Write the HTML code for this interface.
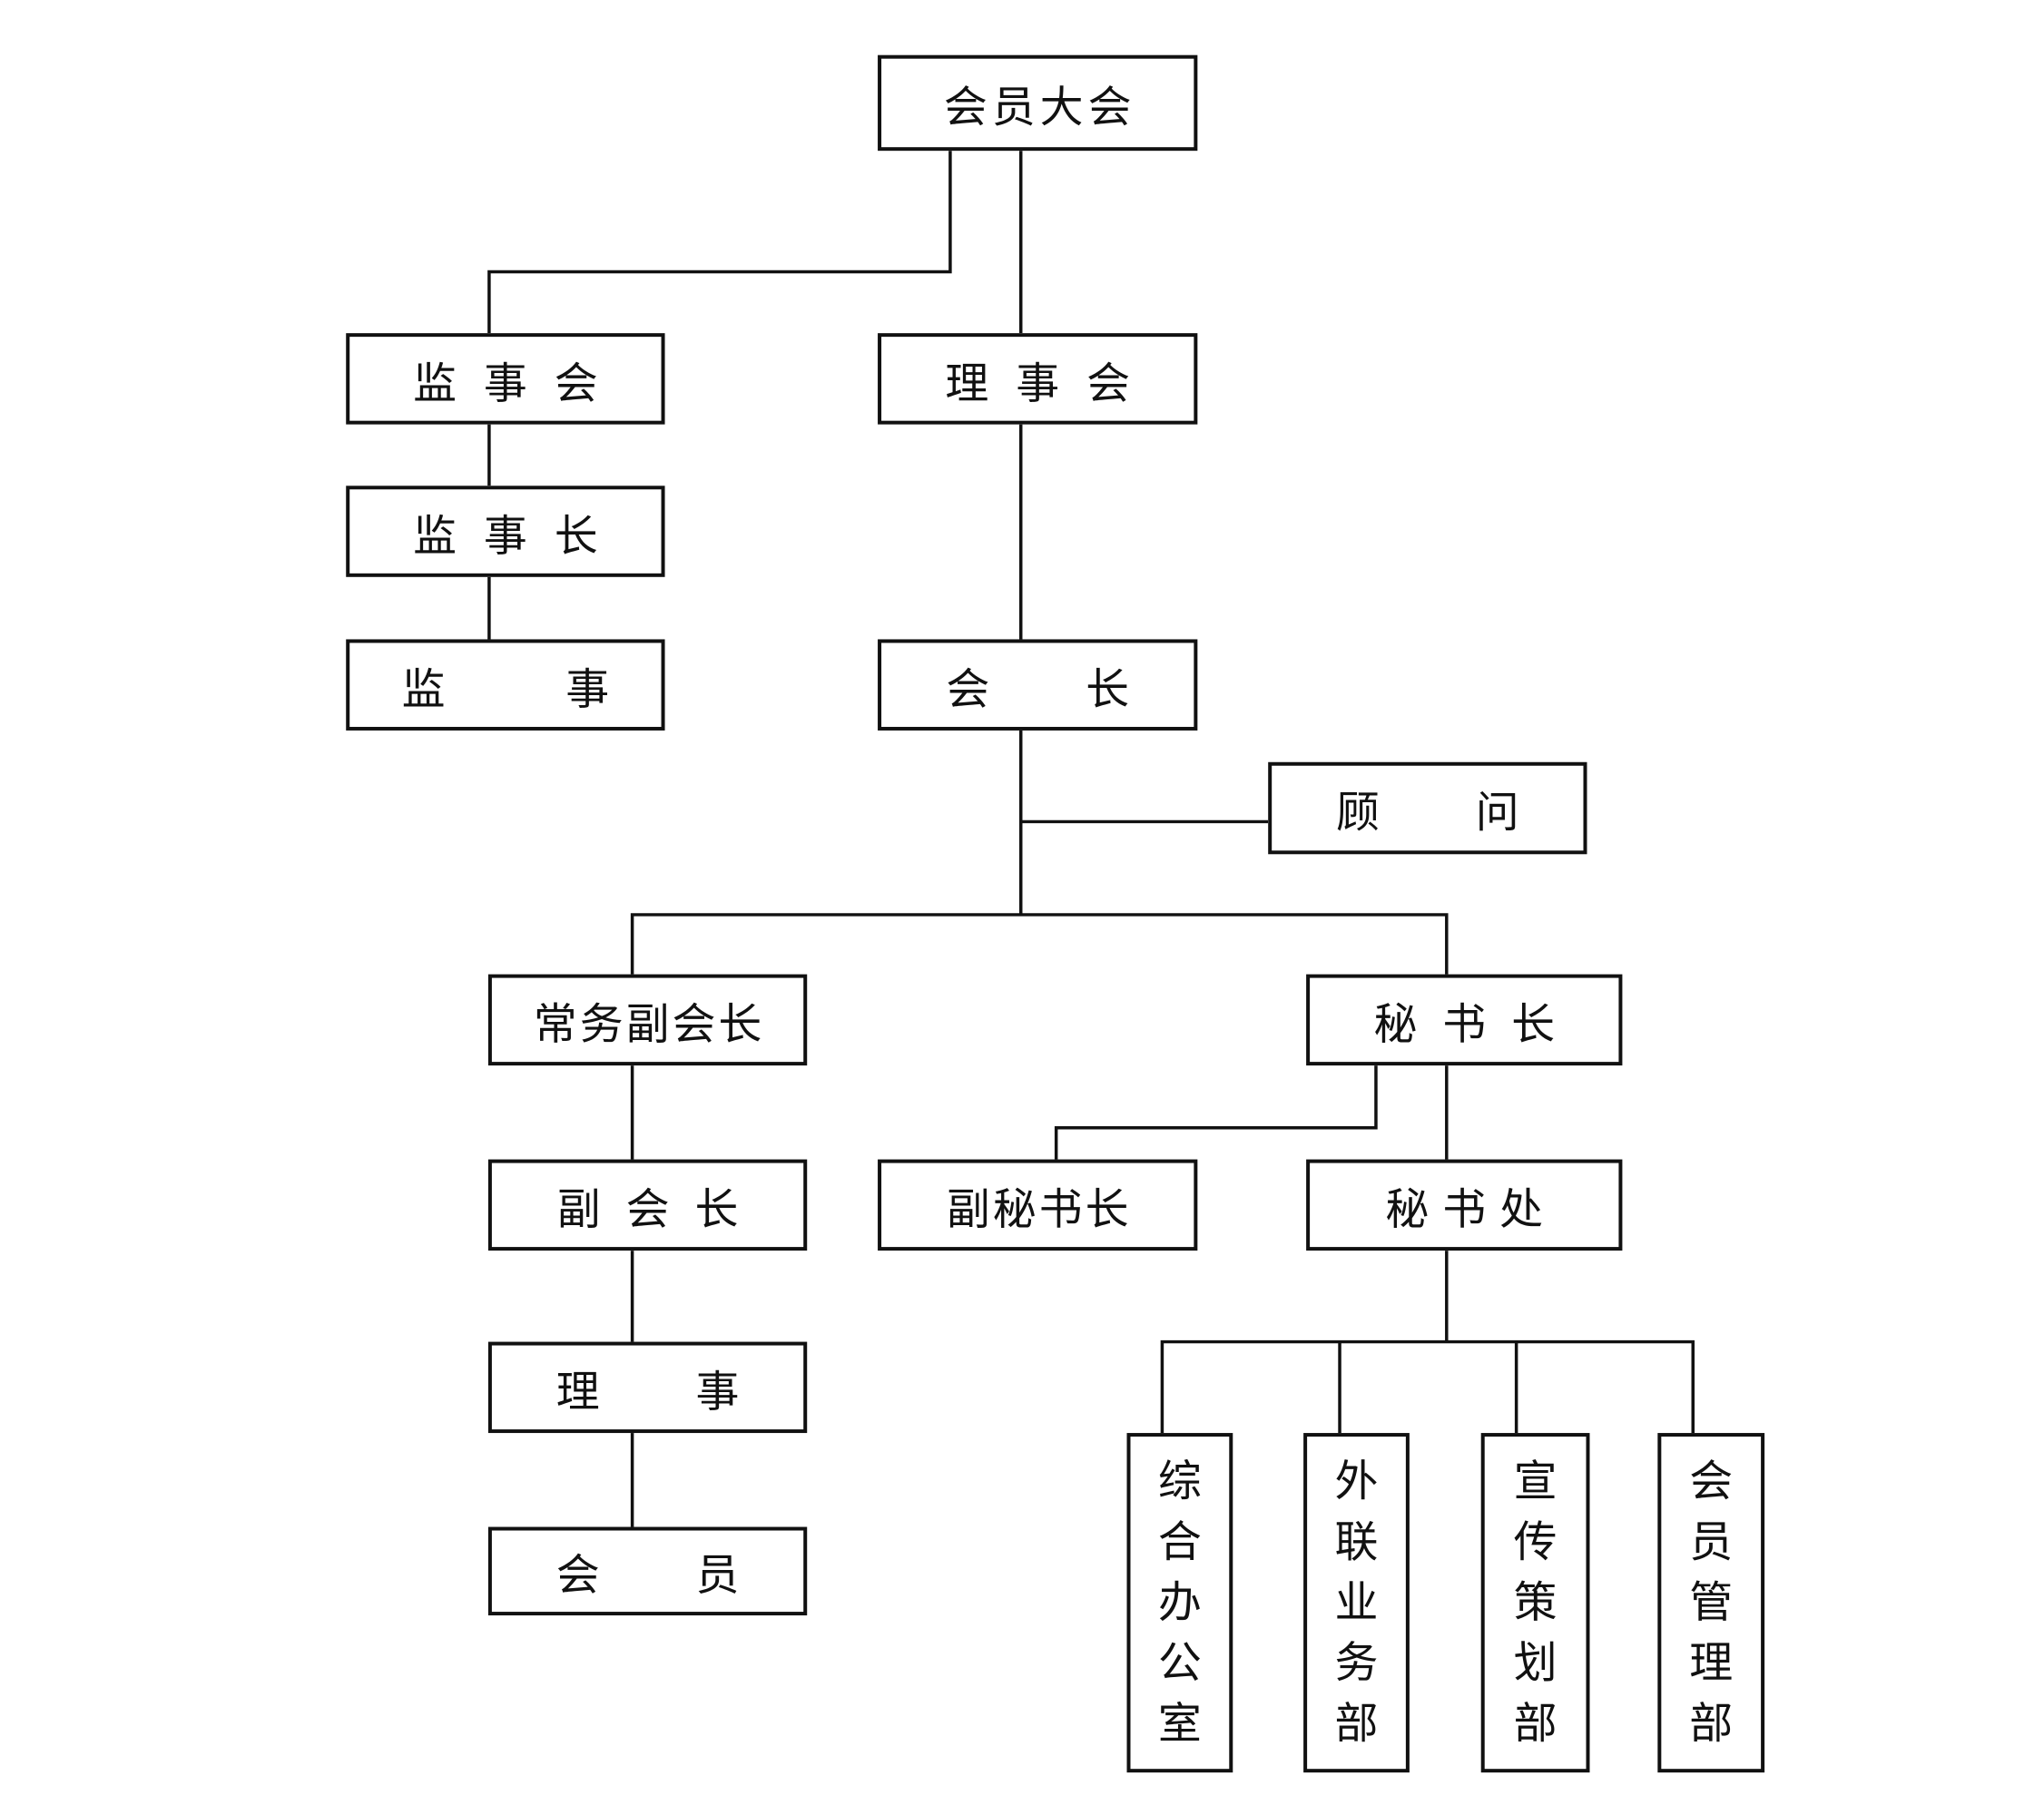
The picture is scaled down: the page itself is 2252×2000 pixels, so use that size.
<!DOCTYPE html>
<html><head><meta charset="utf-8"><style>
html,body{margin:0;padding:0;background:#fff;}
body{width:2252px;height:2000px;position:relative;overflow:hidden;font-family:"Liberation Sans","Noto Sans CJK SC",sans-serif;}
#w{position:absolute;left:0;top:0;width:2252px;height:2000px;transform-origin:0 0;transform:translate(-4px,-1px) scale(0.998,0.995);}
.b{position:absolute;box-sizing:border-box;border:4px solid #111;background:#fff;display:flex;align-items:center;justify-content:center;font-size:48px;color:#111;white-space:nowrap;}
.v{flex-direction:column;line-height:67px;}
svg{position:absolute;left:0;top:0;}
</style></head><body><div id="w">
<svg width="2252" height="2000" stroke="#111" stroke-width="3.5" fill="none">
<polyline points="1053,168 1053,302 544,302 544,370"/>
<line x1="1131" y1="168" x2="1131" y2="370"/>
<line x1="544" y1="471" x2="544" y2="539"/>
<line x1="544" y1="640" x2="544" y2="709"/>
<line x1="1131" y1="471" x2="1131" y2="709"/>
<line x1="1131" y1="810" x2="1131" y2="1014"/>
<line x1="1131" y1="911" x2="1404" y2="911"/>
<polyline points="702,1080 702,1014 1601,1014 1601,1080"/>
<line x1="702" y1="1181" x2="702" y2="1285"/>
<line x1="702" y1="1386" x2="702" y2="1487"/>
<line x1="702" y1="1588" x2="702" y2="1692"/>
<polyline points="1523,1181 1523,1250 1170,1250 1170,1285"/>
<line x1="1601" y1="1181" x2="1601" y2="1285"/>
<line x1="1601" y1="1386" x2="1601" y2="1487"/>
<polyline points="1287,1588 1287,1487 1873,1487 1873,1588"/>
<line x1="1483" y1="1487" x2="1483" y2="1588"/>
<line x1="1678" y1="1487" x2="1678" y2="1588"/>
</svg>
<div class="b" style="left:973px;top:62px;width:353px;height:106px;letter-spacing:5px;padding-left:5px">会员大会</div>
<div class="b" style="left:386px;top:370px;width:352px;height:101px;letter-spacing:30px;padding-left:30px">监事会</div>
<div class="b" style="left:973px;top:370px;width:353px;height:101px;letter-spacing:30px;padding-left:30px">理事会</div>
<div class="b" style="left:386px;top:539px;width:352px;height:101px;letter-spacing:30px;padding-left:30px">监事长</div>
<div class="b" style="left:386px;top:709px;width:352px;height:101px;letter-spacing:133px;padding-left:133px">监事</div>
<div class="b" style="left:973px;top:709px;width:353px;height:101px;letter-spacing:106px;padding-left:106px">会长</div>
<div class="b" style="left:1404px;top:845px;width:352px;height:102px;letter-spacing:106px;padding-left:106px">顾问</div>
<div class="b" style="left:543px;top:1080px;width:352px;height:101px;letter-spacing:3px;padding-left:3px">常务副会长</div>
<div class="b" style="left:1446px;top:1080px;width:349px;height:101px;letter-spacing:28px;padding-left:28px">秘书长</div>
<div class="b" style="left:543px;top:1285px;width:352px;height:101px;letter-spacing:28px;padding-left:28px">副会长</div>
<div class="b" style="left:973px;top:1285px;width:353px;height:101px;letter-spacing:3px;padding-left:3px">副秘书长</div>
<div class="b" style="left:1446px;top:1285px;width:349px;height:101px;letter-spacing:15px;padding-left:15px">秘书处</div>
<div class="b" style="left:543px;top:1487px;width:352px;height:101px;letter-spacing:106px;padding-left:106px">理事</div>
<div class="b" style="left:543px;top:1692px;width:352px;height:98px;letter-spacing:106px;padding-left:106px">会员</div>
<div class="b v" style="left:1248px;top:1588px;width:117px;height:376px"><span>综</span><span>合</span><span>办</span><span>公</span><span>室</span></div>
<div class="b v" style="left:1443px;top:1588px;width:117px;height:376px"><span>外</span><span>联</span><span>业</span><span>务</span><span>部</span></div>
<div class="b v" style="left:1639px;top:1588px;width:120px;height:376px"><span>宣</span><span>传</span><span>策</span><span>划</span><span>部</span></div>
<div class="b v" style="left:1834px;top:1588px;width:118px;height:376px"><span>会</span><span>员</span><span>管</span><span>理</span><span>部</span></div>
</div></body></html>
